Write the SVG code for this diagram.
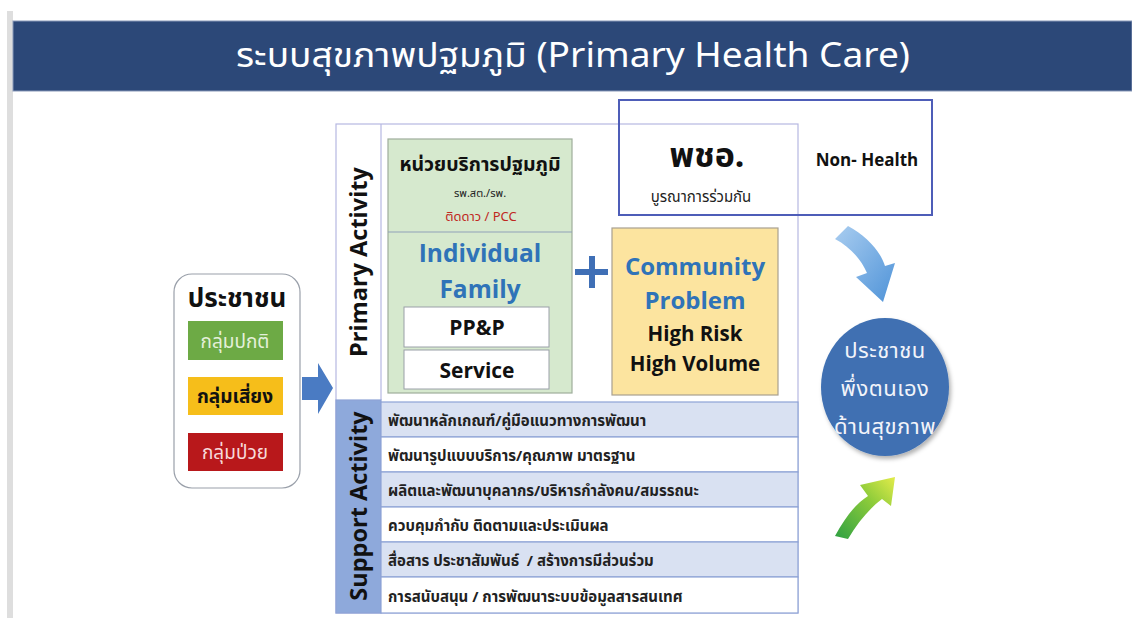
<svg xmlns="http://www.w3.org/2000/svg" width="1132" height="618" viewBox="0 0 1132 618">
<defs>
<style>
.th{font-family:"Noto Sans","Noto Sans Thai","Tahoma","DejaVu Sans",sans-serif}
.en{font-family:"Open Sans","Noto Sans",sans-serif;font-weight:bold}
.b{font-weight:bold}
.row{stroke:#8EA3D6;stroke-width:1.2}
.rowt{font-family:"Noto Sans","Noto Sans Thai",sans-serif;font-size:15px;font-weight:bold;fill:#222}
</style>
<linearGradient id="gBlue" x1="0" y1="0" x2="1" y2="1">
<stop offset="0" stop-color="#A9CDF0"/>
<stop offset="1" stop-color="#4F93D8"/>
</linearGradient>
<linearGradient id="gGreen" x1="0" y1="1" x2="1" y2="0">
<stop offset="0" stop-color="#2EA043"/>
<stop offset="0.6" stop-color="#8CCB3A"/>
<stop offset="1" stop-color="#E3EC4A"/>
</linearGradient>
<filter id="sh" x="-20%" y="-20%" width="140%" height="140%">
<feDropShadow dx="2" dy="3" stdDeviation="2" flood-color="#000" flood-opacity="0.3"/>
</filter>
</defs>
<rect width="1132" height="618" fill="#FFFFFF"/>
<rect x="7" y="11" width="6" height="607" fill="#DEDEDE"/>
<g id="title">
<rect x="13" y="21" width="1119" height="70" fill="#2C4878" stroke="#8797B8" stroke-width="1"/>
<text x="236" y="67" textLength="674" lengthAdjust="spacingAndGlyphs" font-size="34" fill="#FFFFFF" class="th">ระบบสุขภาพปฐมภูมิ (Primary Health Care)</text>
</g>
<g id="people">
<rect x="174" y="274" width="126" height="214" rx="18" fill="#FFFFFF" stroke="#9AA0AA" stroke-width="1.2"/>
<text x="237" y="307" text-anchor="middle" font-size="26" class="th b" fill="#111">ประชาชน</text>
<rect x="188" y="321" width="95" height="39" fill="#6DAA45"/>
<text x="235" y="348" text-anchor="middle" font-size="19" class="th" fill="#E4F0DA">กลุ่มปกติ</text>
<rect x="188" y="377" width="95" height="38" fill="#F6BE1A"/>
<text x="235" y="403" text-anchor="middle" font-size="19" class="th b" fill="#111">กลุ่มเสี่ยง</text>
<rect x="188" y="433" width="95" height="38" fill="#B8181B"/>
<text x="235" y="459" text-anchor="middle" font-size="19" class="th" fill="#F6DADA">กลุ่มป่วย</text>
</g>
<g id="framework">
<rect x="336" y="124" width="462" height="489" fill="#FFFFFF" stroke="#B6B8E2" stroke-width="1.2"/>
<line x1="381" y1="124" x2="381" y2="400" stroke="#B6B8E2" stroke-width="1.2"/>
<text transform="translate(367,262) rotate(-90)" text-anchor="middle" font-size="23.5" class="en" fill="#111">Primary Activity</text>
</g>
<g id="pch">
<rect x="619" y="100" width="313" height="115" fill="none" stroke="#4E5DB8" stroke-width="2"/>
<text x="707" y="167" text-anchor="middle" font-size="34" class="th b" fill="#111">พชอ.</text>
<text x="701" y="202" text-anchor="middle" font-size="15" class="th" fill="#222">บูรณาการร่วมกัน</text>
<text x="867" y="166" text-anchor="middle" font-size="17" class="en" fill="#111">Non- Health</text>
</g>
<g id="primary-unit">
<rect x="388" y="139" width="184" height="254" fill="#D6E9CE" stroke="#9EAD9C" stroke-width="1.2"/>
<line x1="388" y1="232" x2="572" y2="232" stroke="#8FA2B8" stroke-width="1.2"/>
<text x="480" y="171" text-anchor="middle" font-size="19.5" class="th b" fill="#111">หน่วยบริการปฐมภูมิ</text>
<text x="480" y="197" text-anchor="middle" font-size="11" class="th" fill="#222">รพ.สต./รพ.</text>
<text x="481" y="221" text-anchor="middle" font-size="13" class="th" fill="#C0281E">ติดดาว / PCC</text>
<text x="480" y="262" text-anchor="middle" font-size="24.5" class="en" fill="#2F73B8">Individual</text>
<text x="480" y="298" text-anchor="middle" font-size="24.5" class="en" fill="#2F73B8">Family</text>
<rect x="404" y="307" width="145" height="40" fill="#FFFFFF" stroke="#9AA0A8" stroke-width="1"/>
<text x="477" y="335" text-anchor="middle" font-size="21" class="en" fill="#111">PP&amp;P</text>
<rect x="404" y="350" width="145" height="39" fill="#FFFFFF" stroke="#9AA0A8" stroke-width="1"/>
<text x="477" y="378" text-anchor="middle" font-size="21" class="en" fill="#111">Service</text>
</g>
<g id="plus">
<rect x="575" y="269" width="33" height="6" fill="#3F6FB6"/>
<rect x="589" y="256" width="6" height="32" fill="#3F6FB6"/>
</g>
<g id="community">
<rect x="612" y="228" width="166" height="167" fill="#FCE49F" stroke="#A8A090" stroke-width="1.2"/>
<text x="695" y="275" text-anchor="middle" font-size="24" class="en" fill="#2F73B8">Community</text>
<text x="695" y="309" text-anchor="middle" font-size="24" class="en" fill="#2F73B8">Problem</text>
<text x="695" y="341" text-anchor="middle" font-size="20.5" class="en" fill="#111">High Risk</text>
<text x="695" y="371" text-anchor="middle" font-size="20.5" class="en" fill="#111">High Volume</text>
</g>
<g id="support">
<rect x="336" y="400" width="45" height="213" fill="#8EA9DB" stroke="#8EA3D6" stroke-width="1.2"/>
<text transform="translate(367,506) rotate(-90)" text-anchor="middle" font-size="23.5" class="en" fill="#111">Support Activity</text>
<rect class="row" x="381" y="402" width="417" height="35" fill="#D9E1F2"/>
<rect class="row" x="381" y="437" width="417" height="35" fill="#FFFFFF"/>
<rect class="row" x="381" y="472" width="417" height="35" fill="#D9E1F2"/>
<rect class="row" x="381" y="507" width="417" height="35" fill="#FFFFFF"/>
<rect class="row" x="381" y="542" width="417" height="35" fill="#D9E1F2"/>
<rect class="row" x="381" y="577" width="417" height="36" fill="#FFFFFF"/>
<text class="rowt" x="388" y="426">พัฒนาหลักเกณฑ์/คู่มือแนวทางการพัฒนา</text>
<text class="rowt" x="388" y="461">พัฒนารูปแบบบริการ/คุณภาพ มาตรฐาน</text>
<text class="rowt" x="388" y="496">ผลิตและพัฒนาบุคลากร/บริหารกำลังคน/สมรรถนะ</text>
<text class="rowt" x="388" y="531">ควบคุมกำกับ ติดตามและประเมินผล</text>
<text class="rowt" x="388" y="566" xml:space="preserve">สื่อสาร ประชาสัมพันธ์  / สร้างการมีส่วนร่วม</text>
<text class="rowt" x="388" y="602">การสนับสนุน / การพัฒนาระบบข้อมูลสารสนเทศ</text>
</g>
<g id="outcome">
<ellipse cx="885" cy="387" rx="64" ry="69" fill="#3F70B2" filter="url(#sh)"/>
<text x="885" y="358" text-anchor="middle" font-size="22" letter-spacing="0.5" class="th" fill="#F2F4FA">ประชาชน</text>
<text x="885" y="396" text-anchor="middle" font-size="22" letter-spacing="0.5" class="th" fill="#F2F4FA">พึ่งตนเอง</text>
<text x="885" y="434" text-anchor="middle" font-size="22" letter-spacing="0.5" class="th" fill="#F2F4FA">ด้านสุขภาพ</text>
</g>
<g id="connectors">
<polygon points="302,377 318,377 318,363 333,388 318,414 318,400 302,400" fill="#4A7BC3"/>
<path d="M835,239 L848,226 C866,236 880,250 885,266 L895,263 L883,302 L856,277 L867,273 C861,259 850,247 835,239 Z" fill="url(#gBlue)"/>
<path d="M835,536 C845,518 855,504 868,496 L860,485 L895,477 L891,506 L882,499 C870,508 858,522 848,539 Z" fill="url(#gGreen)"/>
</g>
</svg>
